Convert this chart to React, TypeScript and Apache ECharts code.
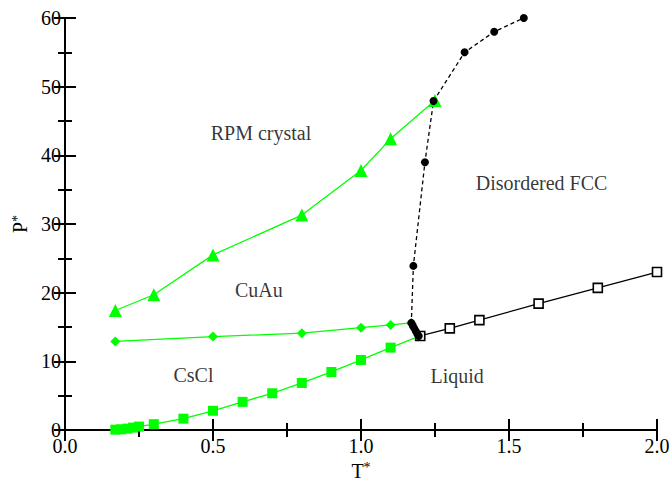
import React, { useEffect, useRef } from "react";
import * as echarts from "echarts";

// Phase diagram of the restricted primitive model: pressure P* against temperature T*.

// RPM crystal / CuAu boundary (triangles)
const rpmCuAu: [number, number][] = [
  [0.17, 17.4], [0.3, 19.7], [0.5, 25.5], [0.8, 31.3], [1.0, 37.8], [1.1, 42.4], [1.25, 48.0],
];

// CuAu / CsCl boundary (diamonds)
const cuAuCsCl: [number, number][] = [
  [0.17, 12.9], [0.5, 13.6], [0.8, 14.1], [1.0, 14.9], [1.1, 15.3], [1.17, 15.6],
];

// CsCl / liquid boundary (filled squares)
const csClLiquid: [number, number][] = [
  [0.17, 0.05], [0.19, 0.1], [0.21, 0.2], [0.23, 0.35], [0.25, 0.5], [0.3, 0.85],
  [0.4, 1.65], [0.5, 2.8], [0.6, 4.1], [0.7, 5.35], [0.8, 6.85], [0.9, 8.45],
  [1.0, 10.2], [1.1, 12.0], [1.2, 13.7],
];

// Ordered solids / disordered FCC boundary (dashed, circles)
const orderDisorder: [number, number][] = [
  [1.195, 13.7], [1.19, 14.0], [1.185, 14.4], [1.18, 14.8], [1.175, 15.2], [1.17, 15.6],
  [1.177, 23.9], [1.216, 39.0], [1.245, 47.9], [1.35, 55.0], [1.45, 58.0], [1.55, 60.0],
];

// Disordered FCC / liquid boundary (open squares)
const fccLiquid: [number, number][] = [
  [1.2, 13.7], [1.3, 14.8], [1.4, 16.0], [1.6, 18.4], [1.8, 20.7], [2.0, 23.0],
];

// Region names and where they sit in (T*, P*)
const regionLabels: [number, number, string][] = [
  [0.662, 43.2, "RPM crystal"],
  [1.61, 35.9, "Disordered FCC"],
  [0.655, 20.4, "CuAu"],
  [0.434, 8.0, "CsCl"],
  [1.325, 7.8, "Liquid"],
];

const FONT = "Liberation Serif";
const GREEN = "#00ff00";

export default function App() {
  const ref = useRef<HTMLDivElement>(null);

  useEffect(() => {
    if (!ref.current) return;
    const chart = echarts.init(ref.current, null, { renderer: "svg" });

    const tickText = { fontFamily: FONT, fontSize: 20, color: "#000" };
    const frameLine = { show: true, lineStyle: { color: "#000", width: 2 } };
    const tick = { show: true, inside: true, length: 11, lineStyle: { color: "#000", width: 2 } };
    const minor = { show: true, splitNumber: 2, length: 7, lineStyle: { color: "#000", width: 2 } };
    const nameRich = {
      b: { fontFamily: FONT, fontSize: 20, color: "#000", lineHeight: 20 },
      s: { fontFamily: FONT, fontSize: 14, color: "#000", lineHeight: 12, verticalAlign: "top" },
    };

    chart.setOption({
      animation: false,
      backgroundColor: "#fff",
      grid: { left: 65, right: 12, top: 18, bottom: 49, containLabel: false, outerBoundsMode: "none" },
      xAxis: [
        {
          type: "value",
          min: 0,
          max: 2,
          interval: 0.5,
          axisLine: frameLine,
          axisTick: tick,
          minorTick: minor,
          splitLine: { show: false },
          axisLabel: { ...tickText, margin: 6, formatter: (v: number) => v.toFixed(1) },
          name: "{b|T}{s|*}",
          nameLocation: "middle",
          nameGap: 20,
          nameTextStyle: { rich: nameRich },
        },
        {
          type: "value",
          position: "top",
          min: 0,
          max: 2,
          interval: 0.5,
          axisLine: frameLine,
          axisTick: tick,
          minorTick: minor,
          splitLine: { show: false },
          axisLabel: { show: false },
        },
      ],
      yAxis: [
        {
          type: "value",
          min: 0,
          max: 60,
          interval: 10,
          axisLine: frameLine,
          axisTick: tick,
          minorTick: minor,
          splitLine: { show: false },
          axisLabel: { ...tickText, margin: 4 },
          name: "{b|P}{s|*}",
          nameLocation: "middle",
          nameRotate: 90,
          nameGap: 28,
          nameTextStyle: { rich: nameRich },
        },
        {
          type: "value",
          position: "right",
          min: 0,
          max: 60,
          interval: 10,
          axisLine: frameLine,
          axisTick: tick,
          minorTick: minor,
          splitLine: { show: false },
          axisLabel: { show: false },
        },
      ],
      series: [
        {
          type: "line",
          data: rpmCuAu,
          symbol: "triangle",
          symbolSize: 13,
          lineStyle: { color: GREEN, width: 1.3 },
          itemStyle: { color: GREEN },
        },
        {
          type: "line",
          data: cuAuCsCl,
          symbol: "diamond",
          symbolSize: 10,
          lineStyle: { color: GREEN, width: 1.3 },
          itemStyle: { color: GREEN },
        },
        {
          type: "line",
          data: csClLiquid,
          symbol: "rect",
          symbolSize: 10,
          lineStyle: { color: GREEN, width: 1.3 },
          itemStyle: { color: GREEN },
        },
        {
          type: "line",
          data: fccLiquid,
          symbol: "rect",
          symbolSize: 9,
          lineStyle: { color: "#000", width: 1.3 },
          itemStyle: { color: "#fff", borderColor: "#000", borderWidth: 1.6 },
        },
        {
          type: "line",
          data: orderDisorder,
          symbol: "circle",
          symbolSize: 8,
          lineStyle: { color: "#000", width: 1.3, type: [4, 3] },
          itemStyle: { color: "#000" },
        },
        {
          type: "scatter",
          data: regionLabels,
          symbolSize: 0,
          silent: true,
          label: {
            show: true,
            position: "inside",
            formatter: (p: any) => p.data[2],
            fontFamily: FONT,
            fontSize: 20,
            color: "#000",
          },
        },
      ],
    });

    return () => chart.dispose();
  }, []);

  return (
    <div
      ref={ref}
      style={{ position: "fixed", left: 0, top: 0, width: 669, height: 479, background: "#fff" }}
    />
  );
}
